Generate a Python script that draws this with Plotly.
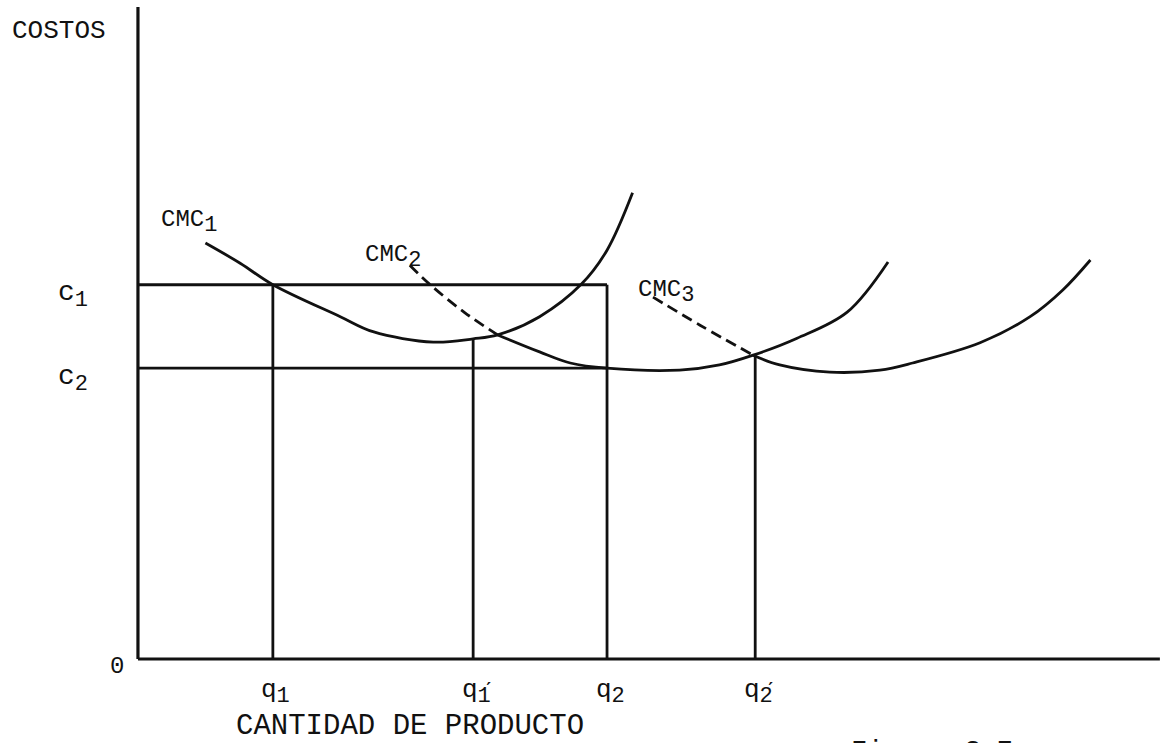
import plotly.graph_objects as go

# ---- data (economic units: quantity on x, cost on y) ----
cmc1_x = [6.6, 10.0, 13.2, 19.8, 23.0, 28.9, 32.8, 35.2, 39.3, 43.4, 45.9, 48.4]
cmc1_y = [63.8, 60.7, 57.4, 52.5, 50.2, 48.6, 49.1, 49.7, 52.5, 57.5, 62.7, 71.5]

cmc2_dash_x = [26.6, 28.6, 32.0, 35.2]
cmc2_dash_y = [60.4, 57.4, 53.1, 49.7]
cmc2_x = [35.2, 39.3, 42.3, 45.9, 53.0, 56.9, 60.2, 64.5, 69.4, 73.4]
cmc2_y = [49.7, 47.1, 45.4, 44.6, 44.3, 45.1, 46.6, 49.2, 53.2, 60.9]

cmc3_dash_x = [50.4, 55.0, 60.2]
cmc3_dash_y = [55.5, 51.2, 46.6]
cmc3_x = [60.2, 62.8, 67.7, 72.6, 75.8, 82.4, 87.3, 90.5, 93.2]
cmc3_y = [46.6, 45.1, 44.0, 44.3, 45.4, 48.5, 52.5, 56.6, 61.2]

c_levels = [57.4, 44.6]            # c1, c2
c_labels = ["c", "c"]
c_subs = ["1", "2"]
c_line_end = [45.9, 45.9]          # horizontal guides end at q2

q_vals = [13.2, 32.8, 45.9, 60.4]  # q1, q1', q2, q2'
q_tops = [57.4, 49.0, 57.4, 46.6]
q_main = ["q", "q", "q", "q"]
q_subs = ["1", "1\u0301", "2", "2\u0301"]   # primes stacked over the subscript

curve_names = ["CMC", "CMC", "CMC"]
curve_subs = ["1", "2", "3"]
curve_label_x = [5.0, 25.0, 51.7]
curve_label_y = [67.0, 61.7, 56.3]

axis_max_x = 100
axis_max_y = 100

FONT = "Liberation Mono"
BLACK = "#111111"
LW = 2.8

fig = go.Figure()

def line(xs, ys, dash="solid", shape="spline", width=LW):
    fig.add_trace(go.Scatter(x=xs, y=ys, mode="lines",
                             line=dict(color=BLACK, width=width, dash=dash, shape=shape),
                             hoverinfo="skip", showlegend=False))

# axes drawn as lines
line([0, 0], [0, axis_max_y], shape="linear", width=3.2)
line([0, axis_max_x], [0, 0], shape="linear", width=3.2)

# horizontal guides
for lvl, xe in zip(c_levels, c_line_end):
    line([0, xe], [lvl, lvl], shape="linear")
# vertical guides
for qv, top in zip(q_vals, q_tops):
    line([qv, qv], [0, top], shape="linear")

# curves
line(cmc1_x, cmc1_y)
line(cmc2_dash_x, cmc2_dash_y, dash="11px,6px")
line(cmc2_x, cmc2_y)
line(cmc3_dash_x, cmc3_dash_y, dash="11px,6px")
line(cmc3_x, cmc3_y)

ann = []
def label(x, y, text, size=26, xanchor="center", yanchor="middle"):
    ann.append(dict(x=x, y=y, xref="x", yref="y", text=text, showarrow=False,
                    font=dict(family=FONT, size=size, color=BLACK),
                    xanchor=xanchor, yanchor=yanchor))

def sub(main, s):
    return f"{main}<sub><span style='font-size:22px'>{s}</span></sub>"

# curve labels
for nm, s, lx, ly in zip(curve_names, curve_subs, curve_label_x, curve_label_y):
    label(lx, ly, sub(nm, s), size=24, xanchor="center")

# cost labels
for lvl, t, s in zip(c_levels, c_labels, c_subs):
    label(-6.4, lvl - 1.6, sub(t, s), size=28)

# quantity labels
for qv, t, s in zip(q_vals, q_main, q_subs):
    label(qv + 0.3, -5.0, sub(t, s), size=26)

label(-2.1, -1.2, "0", size=24)
label(-7.7, 96.3, "COSTOS", size=26)
label(26.6, -10.3, "CANTIDAD DE PRODUCTO", size=29)
label(77.7, -11.6, "Figura 3.7", size=27, xanchor="center", yanchor="top")

fig.update_layout(
    width=1165, height=743,
    margin=dict(l=0, r=0, t=0, b=0),
    paper_bgcolor="white", plot_bgcolor="white",
    annotations=ann,
    xaxis=dict(range=[-13.5, 100.5], showgrid=False, zeroline=False, showticklabels=False,
               showline=False, ticks=""),
    yaxis=dict(range=[-12.88, 101.07], showgrid=False, zeroline=False, showticklabels=False,
               showline=False, ticks=""),
)

fig.write_html("out.html",
               config={"displayModeBar": False, "staticPlot": True},
               post_script="document.body.style.margin='0';document.body.style.overflow='hidden';")
